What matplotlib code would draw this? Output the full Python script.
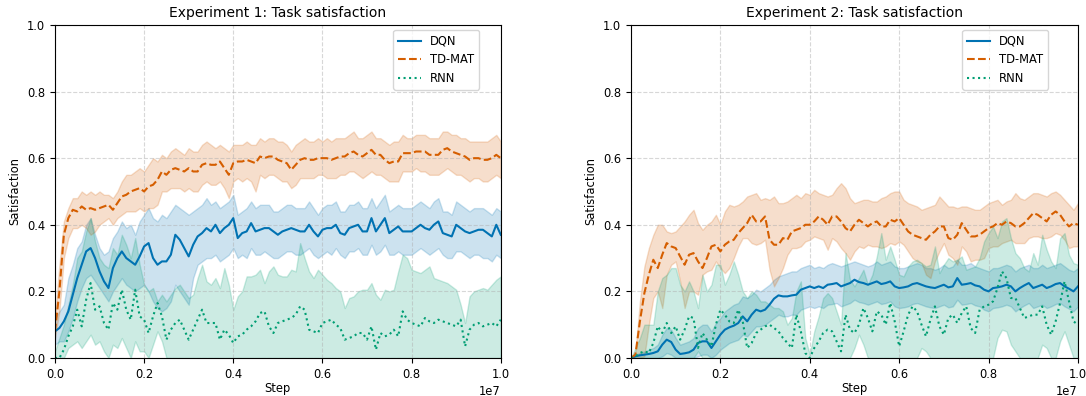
import numpy as np
import matplotlib
matplotlib.use("Agg")
import matplotlib.pyplot as plt

# sampled every 0.1e6 steps (101 points)
steps = np.linspace(0, 1e7, 101)

# ---------------- Experiment 1 ----------------
e1_dqn = [0.08, 0.09, 0.11, 0.14, 0.19, 0.24, 0.28, 0.32, 0.33, 0.30,
          0.26, 0.23, 0.21, 0.27, 0.30, 0.32, 0.30, 0.29, 0.28, 0.305,
          0.335, 0.345, 0.30, 0.28, 0.29, 0.29, 0.31, 0.37, 0.355, 0.33,
          0.305, 0.34, 0.365, 0.375, 0.39, 0.38, 0.40, 0.375, 0.39, 0.40,
          0.42, 0.36, 0.375, 0.38, 0.405, 0.38, 0.385, 0.39, 0.39, 0.38,
          0.37, 0.38, 0.385, 0.39, 0.385, 0.38, 0.38, 0.40, 0.38, 0.365,
          0.385, 0.39, 0.39, 0.40, 0.375, 0.37, 0.39, 0.395, 0.40, 0.38,
          0.38, 0.42, 0.38, 0.40, 0.42, 0.375, 0.385, 0.395, 0.38, 0.38,
          0.38, 0.39, 0.40, 0.39, 0.385, 0.40, 0.41, 0.375, 0.37, 0.365,
          0.40, 0.39, 0.38, 0.375, 0.38, 0.385, 0.385, 0.375, 0.365, 0.40,
          0.37]
e1_dqn_lo = [0.04, 0.05, 0.05, 0.08, 0.12, 0.17, 0.21, 0.24, 0.25, 0.23,
             0.21, 0.19, 0.17, 0.20, 0.22, 0.24, 0.22, 0.21, 0.20, 0.21,
             0.22, 0.20, 0.17, 0.15, 0.14, 0.15, 0.17, 0.22, 0.20, 0.18,
             0.16, 0.24, 0.28, 0.29, 0.30, 0.30, 0.31, 0.29, 0.30, 0.31,
             0.33, 0.30, 0.31, 0.30, 0.33, 0.31, 0.31, 0.32, 0.31, 0.30,
             0.30, 0.31, 0.32, 0.32, 0.31, 0.31, 0.32, 0.33, 0.31, 0.30,
             0.31, 0.32, 0.31, 0.33, 0.31, 0.30, 0.32, 0.32, 0.33, 0.31,
             0.31, 0.34, 0.31, 0.32, 0.34, 0.31, 0.31, 0.32, 0.31, 0.31,
             0.31, 0.32, 0.33, 0.32, 0.31, 0.32, 0.33, 0.31, 0.30, 0.30,
             0.32, 0.32, 0.31, 0.30, 0.31, 0.31, 0.30, 0.30, 0.29, 0.31,
             0.30]
e1_dqn_hi = [0.12, 0.14, 0.16, 0.24, 0.28, 0.33, 0.35, 0.40, 0.42, 0.37,
             0.33, 0.31, 0.32, 0.36, 0.38, 0.41, 0.39, 0.40, 0.37, 0.41,
             0.43, 0.45, 0.42, 0.41, 0.43, 0.42, 0.44, 0.46, 0.45, 0.44,
             0.43, 0.44, 0.45, 0.46, 0.48, 0.46, 0.47, 0.45, 0.46, 0.47,
             0.49, 0.43, 0.44, 0.45, 0.47, 0.45, 0.46, 0.46, 0.46, 0.44,
             0.44, 0.45, 0.46, 0.46, 0.45, 0.45, 0.45, 0.47, 0.45, 0.43,
             0.45, 0.46, 0.46, 0.47, 0.44, 0.44, 0.46, 0.46, 0.47, 0.45,
             0.45, 0.48, 0.45, 0.47, 0.49, 0.44, 0.45, 0.46, 0.45, 0.45,
             0.45, 0.46, 0.47, 0.46, 0.45, 0.47, 0.48, 0.44, 0.44, 0.43,
             0.47, 0.46, 0.45, 0.44, 0.45, 0.45, 0.45, 0.44, 0.43, 0.45,
             0.44]

e1_td = [0.08, 0.20, 0.37, 0.42, 0.445, 0.44, 0.455, 0.445, 0.45, 0.445,
         0.45, 0.455, 0.46, 0.445, 0.465, 0.485, 0.49, 0.50, 0.505, 0.51,
         0.50, 0.515, 0.52, 0.535, 0.56, 0.55, 0.565, 0.57, 0.565, 0.56,
         0.57, 0.56, 0.56, 0.58, 0.585, 0.58, 0.58, 0.59, 0.57, 0.55,
         0.585, 0.59, 0.59, 0.595, 0.59, 0.585, 0.605, 0.60, 0.605, 0.605,
         0.595, 0.59, 0.585, 0.565, 0.58, 0.595, 0.60, 0.595, 0.595, 0.60,
         0.60, 0.60, 0.595, 0.60, 0.605, 0.605, 0.615, 0.62, 0.61, 0.605,
         0.615, 0.625, 0.61, 0.61, 0.595, 0.585, 0.59, 0.59, 0.615, 0.615,
         0.615, 0.62, 0.62, 0.62, 0.61, 0.61, 0.61, 0.625, 0.63, 0.62,
         0.615, 0.61, 0.605, 0.595, 0.60, 0.60, 0.595, 0.595, 0.60, 0.61,
         0.60]
e1_td_lo = [0.06, 0.14, 0.30, 0.36, 0.39, 0.39, 0.40, 0.39, 0.37, 0.38,
            0.40, 0.41, 0.42, 0.40, 0.42, 0.43, 0.44, 0.44, 0.44, 0.45,
            0.44, 0.45, 0.45, 0.46, 0.50, 0.50, 0.51, 0.51, 0.51, 0.50,
            0.51, 0.50, 0.50, 0.52, 0.53, 0.52, 0.52, 0.53, 0.51, 0.48,
            0.53, 0.54, 0.53, 0.54, 0.53, 0.50, 0.55, 0.54, 0.55, 0.55,
            0.54, 0.53, 0.53, 0.51, 0.52, 0.54, 0.54, 0.54, 0.54, 0.55,
            0.55, 0.54, 0.54, 0.54, 0.55, 0.55, 0.56, 0.56, 0.55, 0.54,
            0.55, 0.56, 0.55, 0.55, 0.54, 0.53, 0.53, 0.53, 0.56, 0.56,
            0.56, 0.57, 0.56, 0.56, 0.55, 0.55, 0.55, 0.56, 0.57, 0.56,
            0.55, 0.55, 0.54, 0.53, 0.54, 0.54, 0.53, 0.53, 0.54, 0.55,
            0.54]
e1_td_hi = [0.12, 0.28, 0.41, 0.45, 0.48, 0.48, 0.50, 0.49, 0.50, 0.49,
            0.50, 0.49, 0.49, 0.48, 0.50, 0.53, 0.55, 0.55, 0.56, 0.57,
            0.56, 0.58, 0.60, 0.59, 0.61, 0.60, 0.62, 0.63, 0.62, 0.61,
            0.63, 0.62, 0.62, 0.64, 0.65, 0.64, 0.63, 0.64, 0.63, 0.62,
            0.64, 0.64, 0.64, 0.65, 0.64, 0.64, 0.66, 0.65, 0.66, 0.66,
            0.65, 0.65, 0.64, 0.62, 0.64, 0.65, 0.66, 0.65, 0.65, 0.66,
            0.65, 0.66, 0.65, 0.66, 0.66, 0.66, 0.67, 0.68, 0.66, 0.66,
            0.67, 0.68, 0.66, 0.66, 0.65, 0.64, 0.65, 0.65, 0.67, 0.66,
            0.66, 0.67, 0.67, 0.67, 0.66, 0.66, 0.66, 0.68, 0.68, 0.67,
            0.67, 0.66, 0.66, 0.65, 0.65, 0.65, 0.65, 0.65, 0.66, 0.67,
            0.65]

e1_rnn = [0.00, 0.00, 0.025, 0.065, 0.095, 0.145, 0.095, 0.175, 0.225, 0.145,
          0.155, 0.105, 0.085, 0.165, 0.145, 0.205, 0.145, 0.115, 0.205, 0.125,
          0.115, 0.075, 0.125, 0.165, 0.125, 0.055, 0.085, 0.105, 0.115, 0.085,
          0.055, 0.085, 0.115, 0.145, 0.105, 0.105, 0.105, 0.055, 0.085, 0.07,
          0.045, 0.065, 0.07, 0.085, 0.095, 0.11, 0.135, 0.14, 0.095, 0.075,
          0.105, 0.11, 0.115, 0.12, 0.13, 0.155, 0.145, 0.085, 0.08, 0.075,
          0.105, 0.11, 0.115, 0.10, 0.09, 0.055, 0.06, 0.065, 0.075, 0.075,
          0.055, 0.095, 0.025, 0.075, 0.065, 0.07, 0.085, 0.065, 0.14, 0.115,
          0.105, 0.10, 0.095, 0.12, 0.11, 0.105, 0.115, 0.11, 0.105, 0.10,
          0.095, 0.115, 0.035, 0.085, 0.10, 0.105, 0.095, 0.10, 0.105, 0.095,
          0.115]
e1_rnn_lo = [0.00, 0.00, 0.00, 0.03, 0.04, 0.05, 0.03, 0.05, 0.07, 0.04,
             0.05, 0.02, 0.00, 0.04, 0.03, 0.06, 0.03, 0.00, 0.05, 0.02,
             0.02, 0.00, 0.04, 0.08, 0.05, 0.00, 0.00, 0.00, 0.00, 0.00,
             0.00, 0.00, 0.00, 0.00, 0.00, 0.00, 0.00, 0.00, 0.00, 0.00,
             0.00, 0.00, 0.00, 0.00, 0.00, 0.00, 0.00, 0.00, 0.00, 0.00,
             0.00, 0.00, 0.00, 0.00, 0.00, 0.00, 0.00, 0.00, 0.00, 0.00,
             0.00, 0.00, 0.00, 0.00, 0.00, 0.00, 0.00, 0.00, 0.00, 0.00,
             0.00, 0.00, 0.00, 0.00, 0.00, 0.00, 0.00, 0.00, 0.00, 0.00,
             0.00, 0.00, 0.00, 0.00, 0.00, 0.00, 0.00, 0.00, 0.00, 0.00,
             0.00, 0.00, 0.00, 0.00, 0.00, 0.00, 0.00, 0.00, 0.00, 0.00,
             0.00]
e1_rnn_hi = [0.02, 0.06, 0.10, 0.16, 0.22, 0.30, 0.32, 0.38, 0.42, 0.35,
             0.30, 0.28, 0.27, 0.33, 0.31, 0.37, 0.34, 0.30, 0.36, 0.28,
             0.22, 0.20, 0.21, 0.17, 0.19, 0.17, 0.19, 0.21, 0.22, 0.20,
             0.18, 0.19, 0.24, 0.28, 0.23, 0.22, 0.24, 0.21, 0.27, 0.22,
             0.145, 0.185, 0.20, 0.245, 0.245, 0.25, 0.265, 0.225, 0.26, 0.275,
             0.25, 0.245, 0.245, 0.265, 0.26, 0.345, 0.30, 0.26, 0.24, 0.265,
             0.25, 0.235, 0.225, 0.21, 0.20, 0.15, 0.18, 0.185, 0.20, 0.205,
             0.205, 0.225, 0.19, 0.175, 0.205, 0.20, 0.205, 0.26, 0.31, 0.30,
             0.265, 0.26, 0.255, 0.265, 0.275, 0.24, 0.235, 0.23, 0.225, 0.215,
             0.205, 0.16, 0.105, 0.185, 0.20, 0.205, 0.21, 0.205, 0.22, 0.235,
             0.245]

# ---------------- Experiment 2 ----------------
e2_dqn = [0.00, 0.005, 0.008, 0.01, 0.012, 0.015, 0.02, 0.04, 0.055, 0.048,
          0.025, 0.012, 0.014, 0.017, 0.025, 0.045, 0.05, 0.05, 0.03, 0.05,
          0.07, 0.085, 0.092, 0.097, 0.105, 0.125, 0.11, 0.13, 0.145, 0.14,
          0.145, 0.16, 0.178, 0.188, 0.185, 0.185, 0.188, 0.19, 0.205, 0.21,
          0.215, 0.21, 0.215, 0.21, 0.22, 0.222, 0.225, 0.215, 0.22, 0.225,
          0.235, 0.228, 0.225, 0.22, 0.225, 0.23, 0.222, 0.225, 0.23, 0.215,
          0.21, 0.212, 0.215, 0.222, 0.225, 0.22, 0.215, 0.212, 0.21, 0.215,
          0.22, 0.212, 0.215, 0.24, 0.22, 0.222, 0.225, 0.218, 0.215, 0.205,
          0.20, 0.21, 0.212, 0.215, 0.22, 0.215, 0.20, 0.21, 0.218, 0.225,
          0.21, 0.215, 0.22, 0.21, 0.215, 0.222, 0.225, 0.215, 0.208, 0.20,
          0.215]
e2_dqn_lo = [0.00, 0.00, 0.00, 0.00, 0.00, 0.00, 0.00, 0.005, 0.015, 0.01,
             0.00, 0.00, 0.00, 0.00, 0.00, 0.005, 0.01, 0.01, 0.00, 0.01,
             0.025, 0.035, 0.045, 0.05, 0.055, 0.07, 0.065, 0.08, 0.095, 0.095,
             0.10, 0.11, 0.12, 0.13, 0.125, 0.125, 0.13, 0.13, 0.145, 0.15,
             0.155, 0.15, 0.155, 0.15, 0.16, 0.162, 0.165, 0.155, 0.16, 0.165,
             0.175, 0.168, 0.165, 0.16, 0.165, 0.17, 0.162, 0.165, 0.17, 0.155,
             0.15, 0.152, 0.155, 0.162, 0.165, 0.16, 0.155, 0.152, 0.15, 0.155,
             0.16, 0.152, 0.155, 0.175, 0.16, 0.162, 0.165, 0.158, 0.155, 0.145,
             0.14, 0.15, 0.152, 0.155, 0.16, 0.155, 0.14, 0.15, 0.158, 0.165,
             0.15, 0.155, 0.16, 0.15, 0.155, 0.162, 0.165, 0.155, 0.148, 0.14,
             0.155]
e2_dqn_hi = [0.00, 0.01, 0.015, 0.02, 0.025, 0.03, 0.04, 0.07, 0.09, 0.085,
             0.06, 0.04, 0.045, 0.05, 0.06, 0.09, 0.10, 0.10, 0.08, 0.105,
             0.12, 0.14, 0.15, 0.16, 0.165, 0.185, 0.18, 0.19, 0.205, 0.20,
             0.21, 0.22, 0.235, 0.245, 0.25, 0.255, 0.26, 0.26, 0.27, 0.275,
             0.28, 0.27, 0.275, 0.27, 0.28, 0.285, 0.28, 0.275, 0.28, 0.285,
             0.29, 0.285, 0.28, 0.275, 0.28, 0.29, 0.28, 0.285, 0.29, 0.275,
             0.27, 0.27, 0.275, 0.28, 0.285, 0.28, 0.27, 0.27, 0.265, 0.27,
             0.28, 0.27, 0.275, 0.295, 0.28, 0.28, 0.285, 0.275, 0.27, 0.265,
             0.26, 0.27, 0.27, 0.275, 0.28, 0.275, 0.26, 0.27, 0.275, 0.28,
             0.27, 0.27, 0.28, 0.27, 0.275, 0.28, 0.285, 0.275, 0.265, 0.26,
             0.27]

e2_td = [0.00, 0.01, 0.11, 0.195, 0.25, 0.295, 0.27, 0.31, 0.345, 0.335,
         0.33, 0.305, 0.28, 0.31, 0.315, 0.29, 0.27, 0.30, 0.335, 0.34,
         0.32, 0.34, 0.35, 0.355, 0.375, 0.39, 0.405, 0.43, 0.41, 0.41,
         0.425, 0.355, 0.34, 0.34, 0.36, 0.355, 0.38, 0.385, 0.39, 0.40,
         0.40, 0.41, 0.425, 0.415, 0.40, 0.425, 0.425, 0.41, 0.39, 0.38,
         0.40, 0.415, 0.405, 0.395, 0.405, 0.41, 0.395, 0.395, 0.415, 0.41,
         0.42, 0.40, 0.38, 0.37, 0.365, 0.36, 0.355, 0.37, 0.38, 0.395,
         0.395, 0.36, 0.355, 0.37, 0.405, 0.385, 0.365, 0.365, 0.37, 0.38,
         0.39, 0.395, 0.405, 0.40, 0.41, 0.405, 0.395, 0.395, 0.405, 0.42,
         0.435, 0.43, 0.42, 0.41, 0.43, 0.44, 0.43, 0.41, 0.395, 0.405,
         0.40]
e2_td_lo = [0.00, 0.00, 0.00, 0.005, 0.10, 0.18, 0.20, 0.15, 0.25, 0.28,
            0.29, 0.23, 0.15, 0.20, 0.20, 0.19, 0.25, 0.26, 0.265, 0.29,
            0.27, 0.255, 0.27, 0.30, 0.335, 0.36, 0.36, 0.345, 0.34, 0.345,
            0.355, 0.265, 0.215, 0.24, 0.27, 0.31, 0.33, 0.33, 0.335, 0.35,
            0.355, 0.365, 0.36, 0.355, 0.325, 0.36, 0.35, 0.33, 0.315, 0.295,
            0.32, 0.335, 0.33, 0.34, 0.335, 0.335, 0.33, 0.335, 0.345, 0.34,
            0.35, 0.34, 0.32, 0.30, 0.29, 0.285, 0.25, 0.24, 0.29, 0.32,
            0.345, 0.31, 0.30, 0.28, 0.335, 0.32, 0.29, 0.295, 0.295, 0.30,
            0.33, 0.335, 0.335, 0.345, 0.35, 0.355, 0.345, 0.345, 0.345, 0.36,
            0.365, 0.365, 0.36, 0.36, 0.365, 0.375, 0.37, 0.355, 0.33, 0.335,
            0.335]
e2_td_hi = [0.00, 0.02, 0.17, 0.275, 0.33, 0.37, 0.40, 0.40, 0.38, 0.375,
            0.38, 0.395, 0.41, 0.43, 0.445, 0.405, 0.385, 0.40, 0.41, 0.43,
            0.40, 0.44, 0.46, 0.455, 0.46, 0.47, 0.485, 0.49, 0.495, 0.475,
            0.48, 0.475, 0.485, 0.465, 0.465, 0.47, 0.48, 0.49, 0.48, 0.495,
            0.49, 0.505, 0.495, 0.49, 0.485, 0.49, 0.51, 0.525, 0.51, 0.48,
            0.465, 0.47, 0.475, 0.475, 0.47, 0.47, 0.48, 0.485, 0.495, 0.50,
            0.50, 0.475, 0.465, 0.46, 0.455, 0.445, 0.45, 0.455, 0.46, 0.485,
            0.47, 0.455, 0.455, 0.45, 0.455, 0.455, 0.45, 0.445, 0.445, 0.455,
            0.465, 0.47, 0.475, 0.46, 0.47, 0.475, 0.495, 0.48, 0.475, 0.485,
            0.495, 0.495, 0.49, 0.485, 0.495, 0.50, 0.49, 0.475, 0.46, 0.445,
            0.465]

e2_rnn = [0.00, 0.005, 0.015, 0.02, 0.015, 0.045, 0.095, 0.075, 0.105, 0.075,
          0.095, 0.055, 0.085, 0.125, 0.12, 0.03, 0.075, 0.055, 0.035, 0.10,
          0.145, 0.13, 0.11, 0.105, 0.145, 0.11, 0.03, 0.045, 0.075, 0.085,
          0.095, 0.10, 0.09, 0.08, 0.06, 0.045, 0.03, 0.13, 0.08, 0.015,
          0.00, 0.03, 0.05, 0.075, 0.085, 0.08, 0.05, 0.02, 0.13, 0.085,
          0.075, 0.10, 0.15, 0.12, 0.08, 0.14, 0.13, 0.10, 0.165, 0.11,
          0.035, 0.08, 0.13, 0.155, 0.14, 0.10, 0.065, 0.115, 0.155, 0.095,
          0.07, 0.12, 0.13, 0.105, 0.135, 0.155, 0.09, 0.075, 0.145, 0.155,
          0.16, 0.17, 0.21, 0.26, 0.24, 0.18, 0.18, 0.15, 0.12, 0.125,
          0.13, 0.13, 0.155, 0.10, 0.07, 0.11, 0.165, 0.23, 0.17, 0.11,
          0.10]
e2_rnn_lo = [0.00, 0.00, 0.00, 0.00, 0.00, 0.00, 0.00, 0.00, 0.00, 0.00,
             0.00, 0.00, 0.00, 0.00, 0.00, 0.02, 0.00, 0.00, 0.00, 0.00,
             0.00, 0.00, 0.00, 0.00, 0.00, 0.00, 0.00, 0.00, 0.00, 0.00,
             0.00, 0.00, 0.00, 0.00, 0.00, 0.00, 0.00, 0.00, 0.00, 0.00,
             0.00, 0.00, 0.00, 0.00, 0.00, 0.00, 0.00, 0.00, 0.00, 0.00,
             0.03, 0.07, 0.04, 0.00, 0.00, 0.00, 0.00, 0.00, 0.00, 0.00,
             0.00, 0.00, 0.00, 0.00, 0.00, 0.03, 0.02, 0.00, 0.00, 0.00,
             0.00, 0.00, 0.00, 0.00, 0.00, 0.00, 0.00, 0.00, 0.00, 0.00,
             0.00, 0.00, 0.06, 0.085, 0.08, 0.04, 0.02, 0.00, 0.00, 0.00,
             0.00, 0.00, 0.04, 0.03, 0.00, 0.00, 0.05, 0.08, 0.04, 0.00,
             0.00]
e2_rnn_hi = [0.00, 0.03, 0.06, 0.10, 0.10, 0.10, 0.20, 0.24, 0.25, 0.27,
             0.27, 0.22, 0.20, 0.23, 0.20, 0.15, 0.25, 0.20, 0.22, 0.28,
             0.28, 0.22, 0.25, 0.29, 0.25, 0.20, 0.18, 0.20, 0.19, 0.17,
             0.17, 0.16, 0.15, 0.15, 0.14, 0.10, 0.12, 0.20, 0.23, 0.06,
             0.01, 0.08, 0.125, 0.18, 0.195, 0.18, 0.14, 0.10, 0.315, 0.235,
             0.215, 0.24, 0.265, 0.22, 0.25, 0.305, 0.375, 0.295, 0.335, 0.295,
             0.25, 0.245, 0.275, 0.29, 0.295, 0.285, 0.275, 0.28, 0.335, 0.255,
             0.28, 0.30, 0.29, 0.295, 0.305, 0.265, 0.27, 0.275, 0.30, 0.35,
             0.375, 0.395, 0.36, 0.41, 0.42, 0.36, 0.315, 0.30, 0.27, 0.26,
             0.315, 0.28, 0.37, 0.325, 0.29, 0.27, 0.36, 0.375, 0.31, 0.285,
             0.28]

c_dqn = "#0072B2"
c_td = "#D55E00"
c_rnn = "#009E73"

plt.rcParams["font.size"] = 8.3

fig = plt.figure(figsize=(10.86, 3.96), dpi=100)
ax1 = fig.add_axes([0.0506, 0.096, 0.4105, 0.841])
ax2 = fig.add_axes([0.581, 0.096, 0.4116, 0.841])

panels = [
    (ax1, "Experiment 1: Task satisfaction", (0.951, 0.985),
     (e1_dqn, e1_dqn_lo, e1_dqn_hi), (e1_td, e1_td_lo, e1_td_hi), (e1_rnn, e1_rnn_lo, e1_rnn_hi)),
    (ax2, "Experiment 2: Task satisfaction", (0.933, 0.985),
     (e2_dqn, e2_dqn_lo, e2_dqn_hi), (e2_td, e2_td_lo, e2_td_hi), (e2_rnn, e2_rnn_lo, e2_rnn_hi)),
]

for ax, title, anchor, dqn, td, rnn in panels:
    for (m, lo, hi), col, ls, name in [(dqn, c_dqn, "-", "DQN"),
                                       (td, c_td, "--", "TD-MAT"),
                                       (rnn, c_rnn, ":", "RNN")]:
        ax.fill_between(steps, lo, hi, color=col, alpha=0.2, linewidth=1)
        ax.plot(steps, m, color=col, linestyle=ls, linewidth=1.5, label=name)
    ax.set_xlim(0, 1e7)
    ax.set_ylim(0, 1.0)
    ax.set_title(title, fontsize=10)
    ax.set_xlabel("Step", labelpad=1)
    ax.set_ylabel("Satisfaction")
    ax.grid(True, linestyle="--", alpha=0.5)
    ax.legend(loc="upper right", bbox_to_anchor=anchor, borderaxespad=0)

fig.savefig("out.png", dpi=100)
